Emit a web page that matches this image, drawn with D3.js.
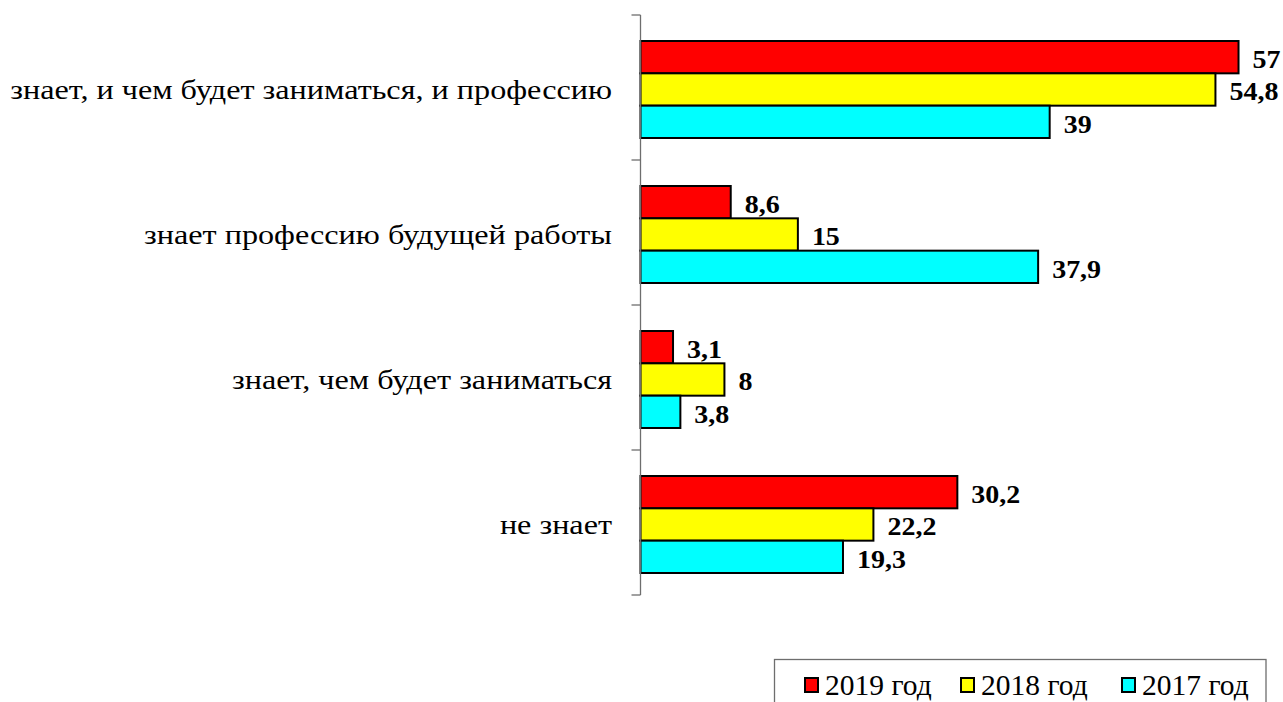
<!DOCTYPE html>
<html>
<head>
<meta charset="utf-8">
<script src="https://cdn.jsdelivr.net/npm/d3@7"></script>
<style>
html,body{margin:0;padding:0;background:#fff;}
svg{display:block;}
</style>
</head>
<body>
<svg id="chart" width="1283" height="702"></svg>
<script>
const categories = [
  "знает, и чем будет заниматься, и профессию",
  "знает профессию будущей работы",
  "знает, чем будет заниматься",
  "не знает"
];
const seriesNames = ["2019 год", "2018 год", "2017 год"];
const seriesColors = ["#ff0000", "#ffff00", "#00ffff"];
const values2019 = [57, 8.6, 3.1, 30.2];
const values2018 = [54.8, 15, 8, 22.2];
const values2017 = [39, 37.9, 3.8, 19.3];
const seriesValues = [values2019, values2018, values2017];

const FONT = "'Liberation Serif', 'Times New Roman', Tinos, serif";
const svg = d3.select("#chart");
const fmt = v => String(v).replace(".", ",");

const x = d3.scaleLinear().domain([0, 60]).range([640.5, 1270]);
const y = d3.scaleBand().domain(categories).range([15, 595]).paddingInner(0).paddingOuter(0);
const inner = d3.scaleBand().domain(seriesNames).range([26, 123]).padding(0);

const SX_CAT = 1.15, SX_VAL = 1.12;

// bars
categories.forEach((cat, ci) => {
  const g = svg.append("g").attr("transform", `translate(0,${y(cat)})`);
  seriesNames.forEach((s, si) => {
    const v = seriesValues[si][ci];
    g.append("rect")
      .attr("x", x(0))
      .attr("y", inner(s))
      .attr("width", x(v) - x(0))
      .attr("height", inner.bandwidth())
      .attr("fill", seriesColors[si])
      .attr("stroke", "#000")
      .attr("stroke-width", 2);
    g.append("text")
      .attr("transform", `translate(${x(v) + 14},${inner(s) + inner.bandwidth() / 2 + 2}) scale(${SX_VAL},1)`)
      .attr("dy", "0.35em")
      .attr("font-size", 25)
      .attr("font-weight", "bold")
      .style("font-family", FONT)
      .attr("fill", "#000")
      .text(fmt(v));
  });
});

// axis
const axisG = svg.append("g").attr("transform", `translate(${x(0)},0)`);
axisG.append("line").attr("x1", 0).attr("x2", 0).attr("y1", y.range()[0]).attr("y2", y.range()[1])
  .attr("stroke", "#6e6e6e").attr("stroke-width", 1.3);
const tickYs = categories.map(c => y(c)).concat([y.range()[1]]);
axisG.selectAll("line.tick").data(tickYs).join("line").attr("class", "tick")
  .attr("x1", -9).attr("x2", 0).attr("y1", d => d).attr("y2", d => d)
  .attr("stroke", "#6e6e6e").attr("stroke-width", 1.3);

// category labels
svg.selectAll("text.cat").data(categories).join("text").attr("class", "cat")
  .attr("transform", d => `translate(612,${y(d) + y.bandwidth() / 2 + 2}) scale(${SX_CAT},1)`)
  .attr("dy", "0.35em")
  .attr("text-anchor", "end")
  .attr("font-size", 28)
  .style("font-family", FONT)
  .attr("fill", "#000")
  .text(d => d);

// legend
const lg = svg.append("g");
lg.append("rect").attr("x", 774.5).attr("y", 659.5).attr("width", 491.5).attr("height", 70)
  .attr("fill", "#fff").attr("stroke", "#6e6e6e").attr("stroke-width", 1.3);
const legX = [805, 961, 1122];
seriesNames.forEach((s, i) => {
  lg.append("rect").attr("x", legX[i]).attr("y", 678).attr("width", 13).attr("height", 14)
    .attr("fill", seriesColors[i]).attr("stroke", "#000").attr("stroke-width", 2);
  lg.append("text").attr("x", legX[i] + 20).attr("y", 694.5)
    .attr("font-size", 29.5).style("font-family", FONT).attr("fill", "#000").text(s);
});
</script>
</body>
</html>
